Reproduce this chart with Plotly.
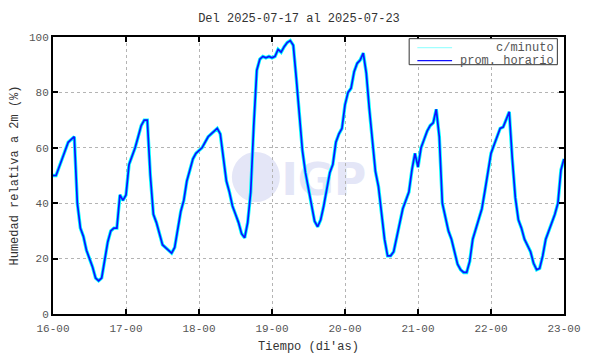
import plotly.graph_objects as go

# Hourly relative humidity (%), hour 0 = 16-00 ... hour 168 = 23-00
day16 = [50, 50, 53, 56, 59, 62, 63, 64, 40, 31, 28, 23, 20, 17, 13, 12, 13, 19, 26, 30, 31, 31, 43, 41]
day17 = [43, 54, 57, 60, 64, 68, 70, 70, 50, 36, 33, 29, 25, 24, 23, 22, 24, 31, 37, 41, 48, 52, 56, 58]
day18 = [59, 60, 62, 64, 65, 66, 67, 65, 56, 48, 44, 39, 36, 33, 29, 27.5, 33, 44, 68, 88, 92, 93, 92.5, 93]
day19 = [92.5, 93, 95.5, 94.5, 96.5, 98, 98.7, 97, 85, 71, 59, 51, 45, 38, 33.5, 31.5, 34, 39, 45, 51, 54, 62, 65, 67]
day20 = [75.5, 80, 81.5, 87.5, 90.5, 91.7, 94.2, 87, 74, 62, 51.5, 46, 36, 27, 21, 21, 22.5, 28, 33.5, 38, 41, 44, 52, 58]
day21 = [53, 60, 63, 66, 68, 69, 73.9, 64, 40, 35, 30, 27, 23, 18, 16, 15, 15, 19, 27, 31, 34, 38, 44.5, 52]
day22 = [58, 61, 64, 67, 67.5, 70.5, 73, 56, 42, 34, 31, 27, 25, 22.5, 18.3, 16, 16.5, 21, 27, 30, 33.3, 36, 40, 52]
end_value = [56]

hourly = day16 + day17 + day18 + day19 + day20 + day21 + day22 + end_value
hours = list(range(len(hourly)))

tick_hours = [0, 24, 48, 72, 96, 120, 144, 168]
tick_text = ["16-00", "17-00", "18-00", "19-00", "20-00", "21-00", "22-00", "23-00"]
y_ticks = [0, 20, 40, 60, 80, 100]
legend_names = ["c/minuto", "prom. horario"]

FONT = "Liberation Mono, DejaVu Sans Mono, monospace"
CYAN = "#00ffff"
BLUE = "#1010ff"

fig = go.Figure()
fig.add_trace(go.Scatter(x=hours, y=hourly, mode="lines", name=legend_names[0],
                         line=dict(color=CYAN, width=3.4), showlegend=False))
fig.add_trace(go.Scatter(x=hours, y=hourly, mode="lines", name=legend_names[1],
                         line=dict(color=BLUE, width=1.7), showlegend=False))

# IGP watermark (paper coordinates)
fig.add_shape(type="circle", xref="paper", yref="paper", x0=0.350, x1=0.444, y0=0.404, y1=0.585,
              fillcolor="#e4e6f7", line=dict(width=0), layer="below")
fig.add_shape(type="rect", xref="paper", yref="paper", x0=0.45, x1=0.61, y0=0.40, y1=0.59,
              fillcolor="rgba(0,0,0,0)", line=dict(width=0), layer="below",
              label=dict(text="<b>IGP</b>", font=dict(size=44, color="#e4e6f7", family="DejaVu Sans"),
                         textposition="middle center"))

# Legend box drawn manually (paper coordinates)
fig.add_shape(type="rect", xref="paper", yref="paper", x0=0.697, x1=0.987, y0=0.900, y1=0.994,
              fillcolor="white", line=dict(color="#333", width=1), layer="above")
for name, col, yy in [(legend_names[0], "#a0ffff", 0.962), (legend_names[1], BLUE, 0.915)]:
    fig.add_shape(type="line", xref="paper", yref="paper", x0=0.713, x1=0.781, y0=yy, y1=yy,
                  line=dict(color=col, width=1.3), layer="above")
    fig.add_annotation(xref="paper", yref="paper", x=0.984, y=yy, text=name, showarrow=False,
                       xanchor="right", yanchor="middle",
                       font=dict(family=FONT, size=12, color="#555"))

axis_common = dict(showline=True, linecolor="black", linewidth=2, mirror="ticks",
                   ticks="inside", ticklen=5, tickcolor="black", tickwidth=1.5,
                   showgrid=True, gridcolor="#b4b4b4", griddash="dot", gridwidth=1,
                   zeroline=False, automargin=False,
                   tickfont=dict(family=FONT, size=11, color="#555"))

fig.update_xaxes(range=[0, 168], tickvals=tick_hours, ticktext=tick_text, ticklabelstandoff=3,
                 title=dict(text="Tiempo (di'as)", font=dict(family=FONT, size=12, color="#333"), standoff=10),
                 **axis_common)
fig.update_yaxes(range=[0, 100], tickvals=y_ticks,
                 title=dict(text="Humedad relativa a 2m (%)", font=dict(family=FONT, size=12, color="#333"), standoff=8),
                 **axis_common)

# page body has an 8px margin: figure is 8px smaller, margins shifted accordingly
fig.update_layout(
    width=582, height=346,
    margin=dict(l=45, r=26, t=29, b=40),
    paper_bgcolor="white", plot_bgcolor="rgba(0,0,0,0)",
    title=dict(text="Del 2025-07-17 al 2025-07-23", x=0.5, xanchor="center",
               yref="container", y=0.971, yanchor="middle",
               font=dict(family=FONT, size=12, color="#333")),
    showlegend=False,
)

fig.write_html("out.html")
